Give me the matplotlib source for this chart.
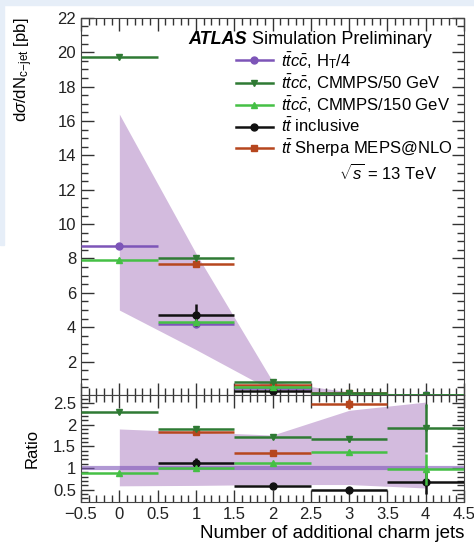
import numpy as np
import matplotlib.pyplot as plt
from matplotlib.lines import Line2D
from matplotlib.patches import Rectangle
from matplotlib.ticker import MultipleLocator

plt.rcParams['font.family'] = ['Liberation Sans', 'DejaVu Sans']
plt.rcParams['mathtext.fontset'] = 'custom'
plt.rcParams['mathtext.rm'] = 'Liberation Sans'
plt.rcParams['mathtext.it'] = 'Liberation Sans:italic'
plt.rcParams['mathtext.bf'] = 'Liberation Sans:bold'

# bin centres: number of additional charm jets
n_jets = np.array([0, 1, 2, 3, 4])

# main panel, dsigma/dN [pb]
ht4 = [8.7, 4.2, 0.47, 0.10, 0.03]
cmmps50 = [19.7, 8.0, 0.82, 0.15, 0.05]
cmmps150 = [7.9, 4.3, 0.55, 0.12, 0.03]
incl = [np.nan, 4.7, 0.28, 0.05, 0.02]
incl_err = [0, 0.65, 0.05, 0.02, 0.01]
sherpa = [np.nan, 7.7, 0.63, 0.2, np.nan]
band_hi = [16.4, 8.3, 0.85, 0.24, 0.075]
band_lo = [5.0, 2.7, 0.3, 0.06, 0.016]

# ratio panel (to ttcc H_T/4)
r_ht4 = [1.0, 1.0, 1.0, 1.0, 1.0]
r_cmmps50 = [2.28, 1.91, 1.71, 1.66, 1.93]
r_cmmps50_err = [0.03, 0.04, 0.04, 0.07, 0.55]
r_cmmps150 = [0.89, 0.99, 1.12, 1.37, 0.97]
r_cmmps150_err = [0.02, 0.03, 0.03, 0.05, 0.35]
r_incl = [np.nan, 1.12, 0.59, 0.49, 0.68]
r_incl_err = [0, 0.1, 0.05, 0.05, 0.28]
r_sherpa = [np.nan, 1.84, 1.34, 2.47, np.nan]
r_sherpa_err = [0, 0.05, 0.05, 0.12, 0]
r_band_hi = [1.90, 1.83, 1.76, 2.33, 2.52]
r_band_lo = [0.59, 0.60, 0.62, 0.62, 0.54]

purple = '#7d55b8'
band_col = '#d3bbde'
dgreen = '#2f7a34'
lgreen = '#45c045'
black = '#111111'
red = '#b6461e'

labels = [r'$t\bar{t}c\bar{c}$, H$_{\mathrm{T}}$/4',
          r'$t\bar{t}c\bar{c}$, CMMPS/50 GeV',
          r'$t\bar{t}c\bar{c}$, CMMPS/150 GeV',
          r'$t\bar{t}$ inclusive',
          r'$t\bar{t}$ Sherpa MEPS@NLO']

fig = plt.figure(figsize=(4.74, 5.42), dpi=100)
fig.patches.append(Rectangle((0, 1 - 5 / 542), 1, 5 / 542, transform=fig.transFigure,
                             color='#e6eef8', zorder=0))
fig.patches.append(Rectangle((0, 1 - 245 / 542), 4 / 474, 245 / 542, transform=fig.transFigure,
                             color='#e6eef8', zorder=0))

ax = fig.add_axes([0.171, 0.271, 0.808, 0.696])
rax = fig.add_axes([0.171, 0.074, 0.808, 0.197], sharex=ax)


def draw(a, y, yerr, col, mk, ms, z):
    a.errorbar(n_jets, y, xerr=0.5, yerr=yerr, fmt=mk, color=col, ms=ms,
               elinewidth=1.8, capsize=0, zorder=z)


ax.fill_between(n_jets, band_lo, band_hi, color=band_col, lw=0, zorder=1)
draw(ax, ht4, None, purple, 'o', 5, 3)
draw(ax, incl, incl_err, black, 'o', 5, 4)
draw(ax, sherpa, None, red, 's', 5, 4)
draw(ax, cmmps150, None, lgreen, '^', 5, 5)
draw(ax, cmmps50, None, dgreen, 'v', 5, 5)

rax.fill_between(n_jets, r_band_lo, r_band_hi, color=band_col, lw=0, zorder=1)
rax.errorbar(n_jets, r_ht4, xerr=0.5, fmt='none', ecolor=purple, elinewidth=3,
             alpha=0.6, zorder=2)
draw(rax, r_incl, r_incl_err, black, 'o', 5, 4)
draw(rax, r_sherpa, r_sherpa_err, red, 's', 5, 4)
draw(rax, r_cmmps150, r_cmmps150_err, lgreen, '^', 5, 5)
draw(rax, r_cmmps50, r_cmmps50_err, dgreen, 'v', 5, 5)

ax.set_xlim(-0.5, 4.5)
ax.set_ylim(0.05, 22)
rax.set_ylim(0.22, 2.68)

for a in (ax, rax):
    a.tick_params(which='both', direction='in', top=True, right=True,
                  labelsize=12, colors='#333333', labelcolor='#222222')
    a.tick_params(which='major', length=9, width=1)
    a.tick_params(which='minor', length=5, width=1)
    a.xaxis.set_major_locator(MultipleLocator(0.5))
    a.xaxis.set_minor_locator(MultipleLocator(0.1))
    for s in a.spines.values():
        s.set_color('#444444')

ax.yaxis.set_major_locator(MultipleLocator(2))
ax.yaxis.set_minor_locator(MultipleLocator(0.5))
ax.set_yticks(np.arange(2, 23, 2))
ax.tick_params(labelbottom=False)
rax.yaxis.set_major_locator(MultipleLocator(0.5))
rax.yaxis.set_minor_locator(MultipleLocator(0.1))
rax.set_yticks([0.5, 1, 1.5, 2, 2.5])
rax.set_yticklabels(['0.5', '1', '1.5', '2', '2.5'])
rax.set_xticks(np.arange(-0.5, 4.6, 0.5))
rax.set_xticklabels(['\u22120.5', '0', '0.5', '1', '1.5', '2', '2.5', '3', '3.5', '4', '4.5'])

ax.set_ylabel(r'd$\sigma$/dN$_{\mathrm{c\!-\!jet}}$ [pb]', fontsize=12, loc='top', labelpad=16)
rax.set_ylabel('Ratio', fontsize=12, labelpad=10)
rax.set_xlabel('Number of additional charm jets', fontsize=13.5, loc='right', labelpad=2)

t = ax.text(0.28, 0.965, 'ATLAS', transform=ax.transAxes, fontsize=13,
            fontweight='bold', style='italic', va='top', ha='left')
ax.annotate(' Simulation Preliminary', xy=(1, 0), xycoords=t, fontsize=13,
            va='bottom', ha='left')
ax.text(0.93, 0.59, r'$\sqrt{s}$ = 13 TeV', transform=ax.transAxes, fontsize=12,
        ha='right', va='center')

handles = [Line2D([], [], color=c, marker=m, ms=5, lw=1.8)
           for c, m in [(purple, 'o'), (dgreen, 'v'), (lgreen, '^'), (black, 'o'), (red, 's')]]
ax.legend(handles, labels, loc='upper left', bbox_to_anchor=(0.405, 0.915), frameon=False,
          fontsize=12, handlelength=2.2, handletextpad=0.5, labelspacing=0.12,
          borderpad=0, borderaxespad=0)

fig.savefig('out.png', dpi=100)
